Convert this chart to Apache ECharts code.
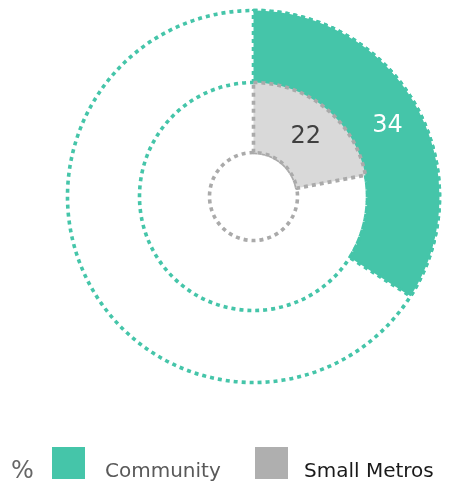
<!DOCTYPE html>
<html><head><meta charset="utf-8">
<script src="https://cdn.jsdelivr.net/npm/echarts@6/dist/echarts.min.js"></script>
<style>html,body{margin:0;padding:0;background:#fff}#c{width:459px;height:491px}</style>
</head><body><div id="c"></div>
<script>
const seriesNames = ['Community', 'Small Metros'];
const seriesValues = [34, 22];
const unitLabel = '%';

const GREEN = '#45C5A9', GREY_FILL = '#D9D9D9', GREY_LINE = '#AAAAAA', GREY_LEGEND = '#AFAFAF';
const center = [253.5, 196.5];
const dash = [4, 4];
const BW = 3.6;
const FONT = 'DejaVu Sans';

function ring(r, color, z) {
  return {
    type: 'pie', silent: true, z: z, center: center, radius: [0, r],
    startAngle: 90, label: {show: false}, labelLine: {show: false},
    emphasis: {disabled: true},
    itemStyle: {color: 'rgba(0,0,0,0)', borderColor: color, borderWidth: BW, borderType: dash},
    data: [{value: 100, name: '_ring' + r}]
  };
}
function seg(name, value, r0, r1, fill, line, labelColor, z) {
  return {
    type: 'pie', silent: true, z: z, center: center, radius: [r0, r1],
    startAngle: 90, clockwise: true, emphasis: {disabled: true},
    labelLine: {show: false},
    data: [
      {name: name, value: value,
       itemStyle: {color: fill, borderColor: line, borderWidth: BW, borderType: dash},
       label: {show: true, position: 'inside', formatter: '{v|{c}}', color: labelColor,
               rich: {v: {fontFamily: FONT, fontSize: 24, color: labelColor, padding: [6, 0, 0, 0]}}}},
      {name: '_rest' + name, value: 100 - value,
       itemStyle: {color: 'rgba(0,0,0,0)', borderWidth: 0}, label: {show: false}}
    ]
  };
}
function legendText(color, padLeft) {
  return {
    fontFamily: FONT, fontSize: 20, color: color,
    rich: {t: {fontFamily: FONT, fontSize: 20, color: color, padding: [18, 0, 0, padLeft]}}
  };
}

const option = {
  animation: false,
  title: {text: unitLabel, left: 11, top: 460, padding: 0,
          textStyle: {fontFamily: FONT, fontSize: 24, fontWeight: 'normal', color: '#666666'}},
  legend: [
    {left: 52, top: 447, padding: 0, itemWidth: 33, itemHeight: 32, icon: 'rect', selectedMode: false,
     data: [{name: seriesNames[0], itemStyle: {color: GREEN, borderWidth: 0}}],
     formatter: '{t|{name}}', textStyle: legendText('#595959', 15)},
    {left: 255, top: 447, padding: 0, itemWidth: 33, itemHeight: 32, icon: 'rect', selectedMode: false,
     data: [{name: seriesNames[1], itemStyle: {color: GREY_LEGEND, borderWidth: 0}}],
     formatter: '{t|{name}}', textStyle: legendText('#1A1A1A', 11)}
  ],
  series: [
    ring(186, GREEN, 1),
    ring(114, GREEN, 1),
    ring(44, GREY_LINE, 1),
    seg(seriesNames[0], seriesValues[0], 114, 186, GREEN, GREEN, '#FFFFFF', 2),
    seg(seriesNames[1], seriesValues[1], 44, 114, GREY_FILL, GREY_LINE, '#404040', 3)
  ]
};
const chart = echarts.init(document.getElementById('c'), null, {renderer: 'canvas'});
chart.setOption(option);
</script></body></html>
